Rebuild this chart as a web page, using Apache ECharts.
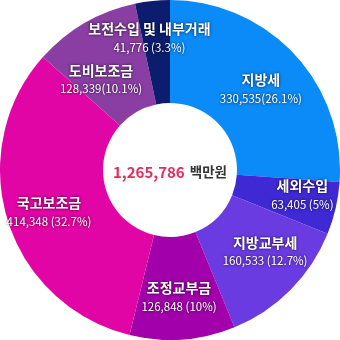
<!DOCTYPE html>
<html><head><meta charset="utf-8">
<script src="https://cdn.jsdelivr.net/npm/echarts@6/dist/echarts.min.js"></script>
<style>html,body{margin:0;padding:0;background:#fff}#c{width:340px;height:340px}</style>
</head><body><div id="c"></div>
<script>
const names = ['지방세','세외수입','지방교부세','조정교부금','국고보조금','도비보조금','보전수입 및 내부거래'];
const values = [330535,63405,160533,126848,414348,128339,41776];
const pctText = ['(26.1%)',' (5%)',' (12.7%)',' (10%)',' (32.7%)','(10.1%)',' (3.3%)'];
const colors = ['#0A8BF8','#3E29D4','#6B3BE2','#A100AA','#E205A6','#8A3EA4','#0C1D6E'];
const totalText = '1,265,786';
const unitText = '백만원';
const labelShift = [[2,1],[14,-3],[9,-5],[0,5],[-5,5],[-8,14],[-8,-12]];

const chart = echarts.init(document.getElementById('c'));
chart.setOption({
  animation:false,
  title:{
    text:'{a|'+totalText+'} {b|'+unitText+'}',
    left:'center', top:158,
    textStyle:{rich:{
      a:{fontFamily:'Noto Sans CJK KR',fontSize:15,fontWeight:'bold',color:'#E42D5D'},
      b:{fontFamily:'Noto Sans CJK KR',fontSize:13.5,fontWeight:'bold',color:'#333'}
    }}
  },
  series:[{
    type:'pie',
    center:[170,170],
    radius:[67,170],
    startAngle:90,
    clockwise:true,
    silent:true,
    data:names.map((n,i)=>({name:n,value:values[i],itemStyle:{color:colors[i]}})),
    label:{
      position:'inside',
      formatter:p=>'{n|'+p.name+'}\n{v|'+values[p.dataIndex].toLocaleString('en-US')+pctText[p.dataIndex]+'}',
      rich:{
        n:{fontFamily:'Noto Sans CJK KR',fontSize:14,fontWeight:'bold',color:'#fff',lineHeight:20,
           textShadowColor:'rgba(0,0,0,0.85)',textShadowBlur:3,align:'center'},
        v:{fontFamily:'Noto Sans CJK KR',fontSize:11.5,color:'#fff',lineHeight:17,
           textShadowColor:'rgba(0,0,0,0.85)',textShadowBlur:3,align:'center'}
      }
    },
    labelLayout:p=>({dx:labelShift[p.dataIndex][0],dy:labelShift[p.dataIndex][1]}),
    labelLine:{show:false}
  }]
});
</script></body></html>
